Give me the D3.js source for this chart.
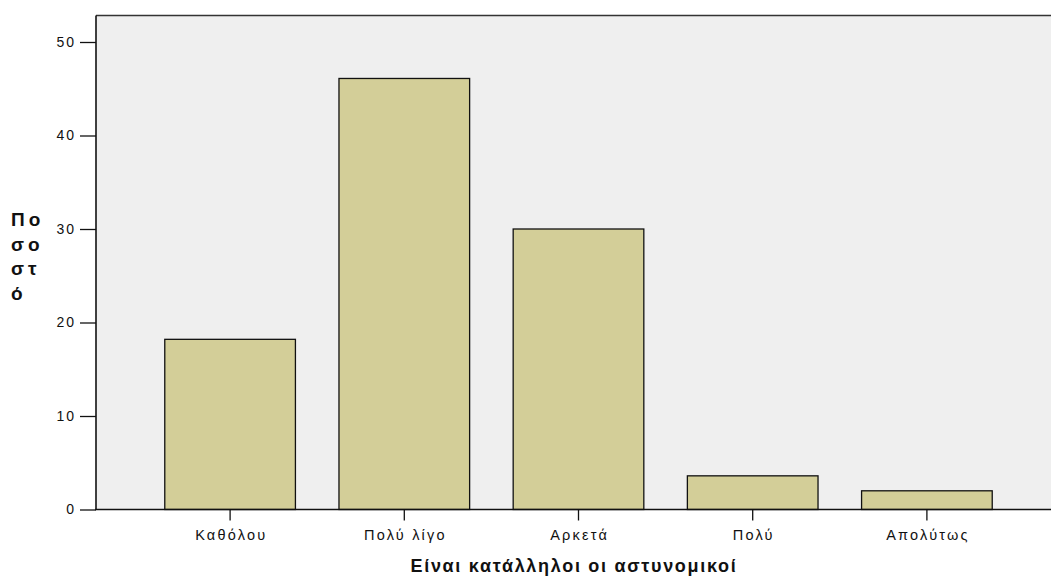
<!DOCTYPE html>
<html><head><meta charset="utf-8">
<script src="https://cdn.jsdelivr.net/npm/d3@7"></script>
<style>body{margin:0;background:#fff;} svg{display:block;font-family:"Liberation Sans",Arial,sans-serif;}</style>
</head><body>
<svg id="c" width="1051" height="579"></svg>
<script>
const categories = ["Καθόλου", "Πολύ λίγο", "Αρκετά", "Πολύ", "Απολύτως"];
const values = [18.2, 46.1, 30.0, 3.6, 2.0];
const yTicks = [0, 10, 20, 30, 40, 50];
const yTitleLines = ["Πο", "σο", "στ", "ό"];
const xTitle = "Είναι κατάλληλοι οι αστυνομικοί";

const svg = d3.select("#c");
const plotL = 96, plotT = 15.5, plotB = 509.5, plotR = 1060;
const y = d3.scaleLinear().domain([0, 50]).range([plotB, 42]);
const x = d3.scaleBand().domain(categories).range([143, 1014]).paddingInner(0.25).paddingOuter(0.125);

svg.append("rect").attr("x", plotL).attr("y", plotT).attr("width", plotR - plotL).attr("height", plotB - plotT).attr("fill", "#efefef");

svg.selectAll("rect.bar").data(values).enter().append("rect").attr("class", "bar")
  .attr("x", (d, i) => x(categories[i]))
  .attr("width", x.bandwidth())
  .attr("y", d => y(d))
  .attr("height", d => plotB - y(d))
  .attr("fill", "#d3ce98").attr("stroke", "#111").attr("stroke-width", 1.3);

// borders
svg.append("line").attr("x1", plotL).attr("x2", plotR).attr("y1", plotT).attr("y2", plotT).attr("stroke", "#333").attr("stroke-width", 1.6);
svg.append("line").attr("x1", plotL).attr("x2", plotL).attr("y1", plotT).attr("y2", plotB).attr("stroke", "#111").attr("stroke-width", 1.6);
svg.append("line").attr("x1", plotL - 1).attr("x2", plotR).attr("y1", plotB).attr("y2", plotB).attr("stroke", "#111").attr("stroke-width", 1.6);

// y axis
const yAxis = d3.axisLeft(y).tickValues(yTicks).tickSize(16).tickPadding(4).tickFormat(d3.format("d"));
const ga = svg.append("g").attr("transform", `translate(${plotL},0)`).call(yAxis);
ga.select(".domain").remove();
ga.selectAll(".tick line").attr("stroke", "#111").attr("stroke-width", 1.3);
ga.selectAll(".tick text").attr("font-size", 14).attr("fill", "#111").style("letter-spacing", "2px").attr("font-family", "Liberation Sans, Arial, sans-serif");

// x axis
const xAxis = d3.axisBottom(x).tickSize(11).tickPadding(9);
const gx = svg.append("g").attr("transform", `translate(0,${plotB})`).call(xAxis);
gx.select(".domain").remove();
gx.selectAll(".tick line").attr("stroke", "#111").attr("stroke-width", 1.3);
gx.selectAll(".tick text").attr("font-size", 14.5).attr("fill", "#111").attr("dx", 1.1).style("letter-spacing", "2.2px").attr("font-family", "Liberation Sans, Arial, sans-serif");

// y title
svg.append("g").selectAll("text").data(yTitleLines).enter().append("text")
  .attr("x", 11).attr("y", (d, i) => 226 + i * 24.5)
  .attr("font-size", 19).attr("font-weight", "bold").attr("fill", "#111")
  .style("letter-spacing", "4px").text(d => d);

// x title
svg.append("text").attr("x", 574).attr("y", 572).attr("text-anchor", "middle")
  .attr("font-size", 18).attr("font-weight", "bold").attr("fill", "#111")
  .style("letter-spacing", "1.7px").text(xTitle);
</script>
</body></html>
